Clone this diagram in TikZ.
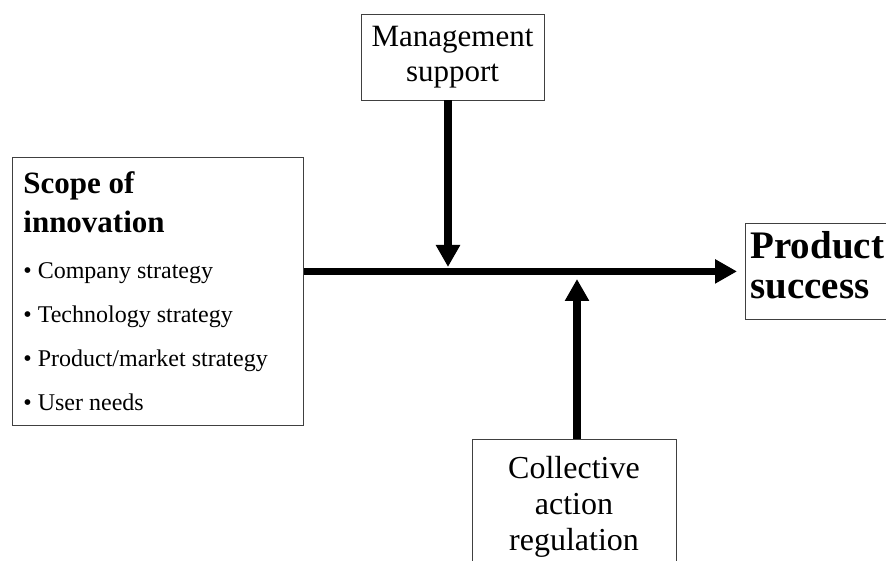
\documentclass[tikz,border=0pt]{standalone}
\usepackage{fontspec}
\setmainfont{Liberation Serif}
\usetikzlibrary{arrows.meta, positioning}
\tikzstyle{panel} = [rectangle, draw = black!75, line width = 0.8pt, inner sep = 0pt]
\tikzstyle{bigarrow} = [line width = 7.5pt, -{Triangle[length = 22pt, width = 23pt]}]

\begin{document}
\begin{tikzpicture}[x = 1pt, y = -1pt]
\useasboundingbox (0,0) rectangle (886,561);

\node (1) [panel, anchor = north west, text width = 269pt, minimum height = 268pt, inner xsep = 11pt, align = left] at (12,157)
{\spaceskip = 0pt\relax
{\fontsize{31}{39}\selectfont\bfseries Scope of\\ innovation\par}\vspace{2pt}
{\fontsize{24}{44}\selectfont \textbullet\ Company strategy\\ \textbullet\ Technology strategy\\ \textbullet\ Product/market strategy\\ \textbullet\ User needs\par}};

\node (2) [panel, minimum width = 183pt, minimum height = 86pt, align = center, font = \fontsize{31}{35}\selectfont] at (452.5,57) {Management\\ support};

\node (3) [panel, anchor = north west, text width = 141pt, minimum height = 96pt, inner xsep = 5pt, align = left, font = \fontsize{39}{40}\selectfont\bfseries] at (745,223) {Product\\ success\strut};

\node (4) [panel, anchor = north, text width = 190pt, inner xsep = 7pt, inner ysep = 17pt, align = center, font = \fontsize{32}{36}\selectfont] at (574,439) {Collective\\ action\\ regulation};

\coordinate (a) at (448,271);
\coordinate (b) at (577,271);

\draw[bigarrow, shorten > = 8pt] (1.east |- 3.west) -- (3.west);
\draw[bigarrow, shorten > = 4pt] (2.south -| a) -- (a);
\draw[bigarrow, shorten > = 8pt] (4.north -| b) -- (b);

\end{tikzpicture}
\end{document}
